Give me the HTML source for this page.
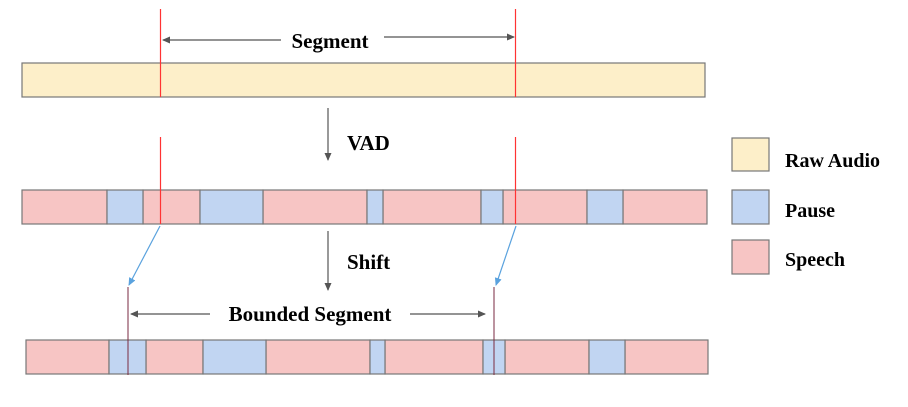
<!DOCTYPE html>
<html><head><style>body{margin:0;background:#fff}svg{display:block}text{font-family:"Liberation Serif",serif;font-weight:bold;fill:#000}</style></head>
<body>
<svg width="908" height="407" viewBox="0 0 908 407" xmlns="http://www.w3.org/2000/svg">
<defs>
<marker id="ag" markerWidth="8" markerHeight="8" refX="7" refY="4" orient="auto" markerUnits="userSpaceOnUse"><path d="M0,0.5 L8,4 L0,7.5z" fill="#555"/></marker>
<marker id="ab" markerWidth="8" markerHeight="8" refX="7" refY="4" orient="auto" markerUnits="userSpaceOnUse"><path d="M0,0.5 L8,4 L0,7.5z" fill="#5aa2de"/></marker>
</defs>
<g stroke="#777" stroke-width="1.2">
<rect x="22" y="63" width="683" height="34" fill="#fdefc9"/>
<!-- row2 -->
<g fill="#f7c5c4">
<rect x="22" y="190" width="85" height="34"/><rect x="143" y="190" width="57" height="34"/><rect x="263" y="190" width="104" height="34"/><rect x="383" y="190" width="98" height="34"/><rect x="503" y="190" width="84" height="34"/><rect x="623" y="190" width="84" height="34"/>
</g>
<g fill="#c1d5f2">
<rect x="107" y="190" width="36" height="34"/><rect x="200" y="190" width="63" height="34"/><rect x="367" y="190" width="16" height="34"/><rect x="481" y="190" width="22" height="34"/><rect x="587" y="190" width="36" height="34"/>
</g>
<!-- row3 -->
<g fill="#f7c5c4">
<rect x="26" y="340" width="83" height="34"/><rect x="146" y="340" width="57" height="34"/><rect x="266" y="340" width="104" height="34"/><rect x="385" y="340" width="98" height="34"/><rect x="505" y="340" width="84" height="34"/><rect x="625" y="340" width="83" height="34"/>
</g>
<g fill="#c1d5f2">
<rect x="109" y="340" width="37" height="34"/><rect x="203" y="340" width="63" height="34"/><rect x="370" y="340" width="15" height="34"/><rect x="483" y="340" width="22" height="34"/><rect x="589" y="340" width="36" height="34"/>
</g>
<rect x="732" y="138" width="37" height="33" fill="#fdefc9"/>
<rect x="732" y="190" width="37" height="34" fill="#c1d5f2"/>
<rect x="732" y="240" width="37" height="34" fill="#f7c5c4"/>
</g>
<g stroke="#f33" stroke-width="1.2">
<line x1="160.5" y1="9" x2="160.5" y2="97"/><line x1="515.5" y1="9" x2="515.5" y2="97"/>
<line x1="160.5" y1="137" x2="160.5" y2="224"/><line x1="515.5" y1="137" x2="515.5" y2="224"/>
</g>
<g stroke="#7a2a40" stroke-width="1">
<line x1="128" y1="287" x2="128" y2="375"/><line x1="494" y1="287" x2="494" y2="375"/>
</g>
<g stroke="#555" stroke-width="1.2" fill="none">
<line x1="281" y1="40" x2="163" y2="40" marker-end="url(#ag)"/>
<line x1="384" y1="37" x2="514" y2="37" marker-end="url(#ag)"/>
<line x1="328" y1="108" x2="328" y2="160" marker-end="url(#ag)"/>
<line x1="328" y1="231" x2="328" y2="290" marker-end="url(#ag)"/>
<line x1="210" y1="314" x2="131" y2="314" marker-end="url(#ag)"/>
<line x1="410" y1="314" x2="485" y2="314" marker-end="url(#ag)"/>
</g>
<g stroke="#5aa2de" stroke-width="1.2">
<line x1="160" y1="226" x2="129" y2="285" marker-end="url(#ab)"/>
<line x1="516" y1="226" x2="496" y2="285" marker-end="url(#ab)"/>
</g>
<text x="330" y="48" font-size="21" text-anchor="middle">Segment</text>
<text x="347" y="150" font-size="21">VAD</text>
<text x="347" y="269" font-size="21">Shift</text>
<text x="310" y="321" font-size="21" text-anchor="middle">Bounded Segment</text>
<text x="785" y="167" font-size="20">Raw Audio</text>
<text x="785" y="217" font-size="20">Pause</text>
<text x="785" y="266" font-size="20">Speech</text>
</svg>
</body></html>
